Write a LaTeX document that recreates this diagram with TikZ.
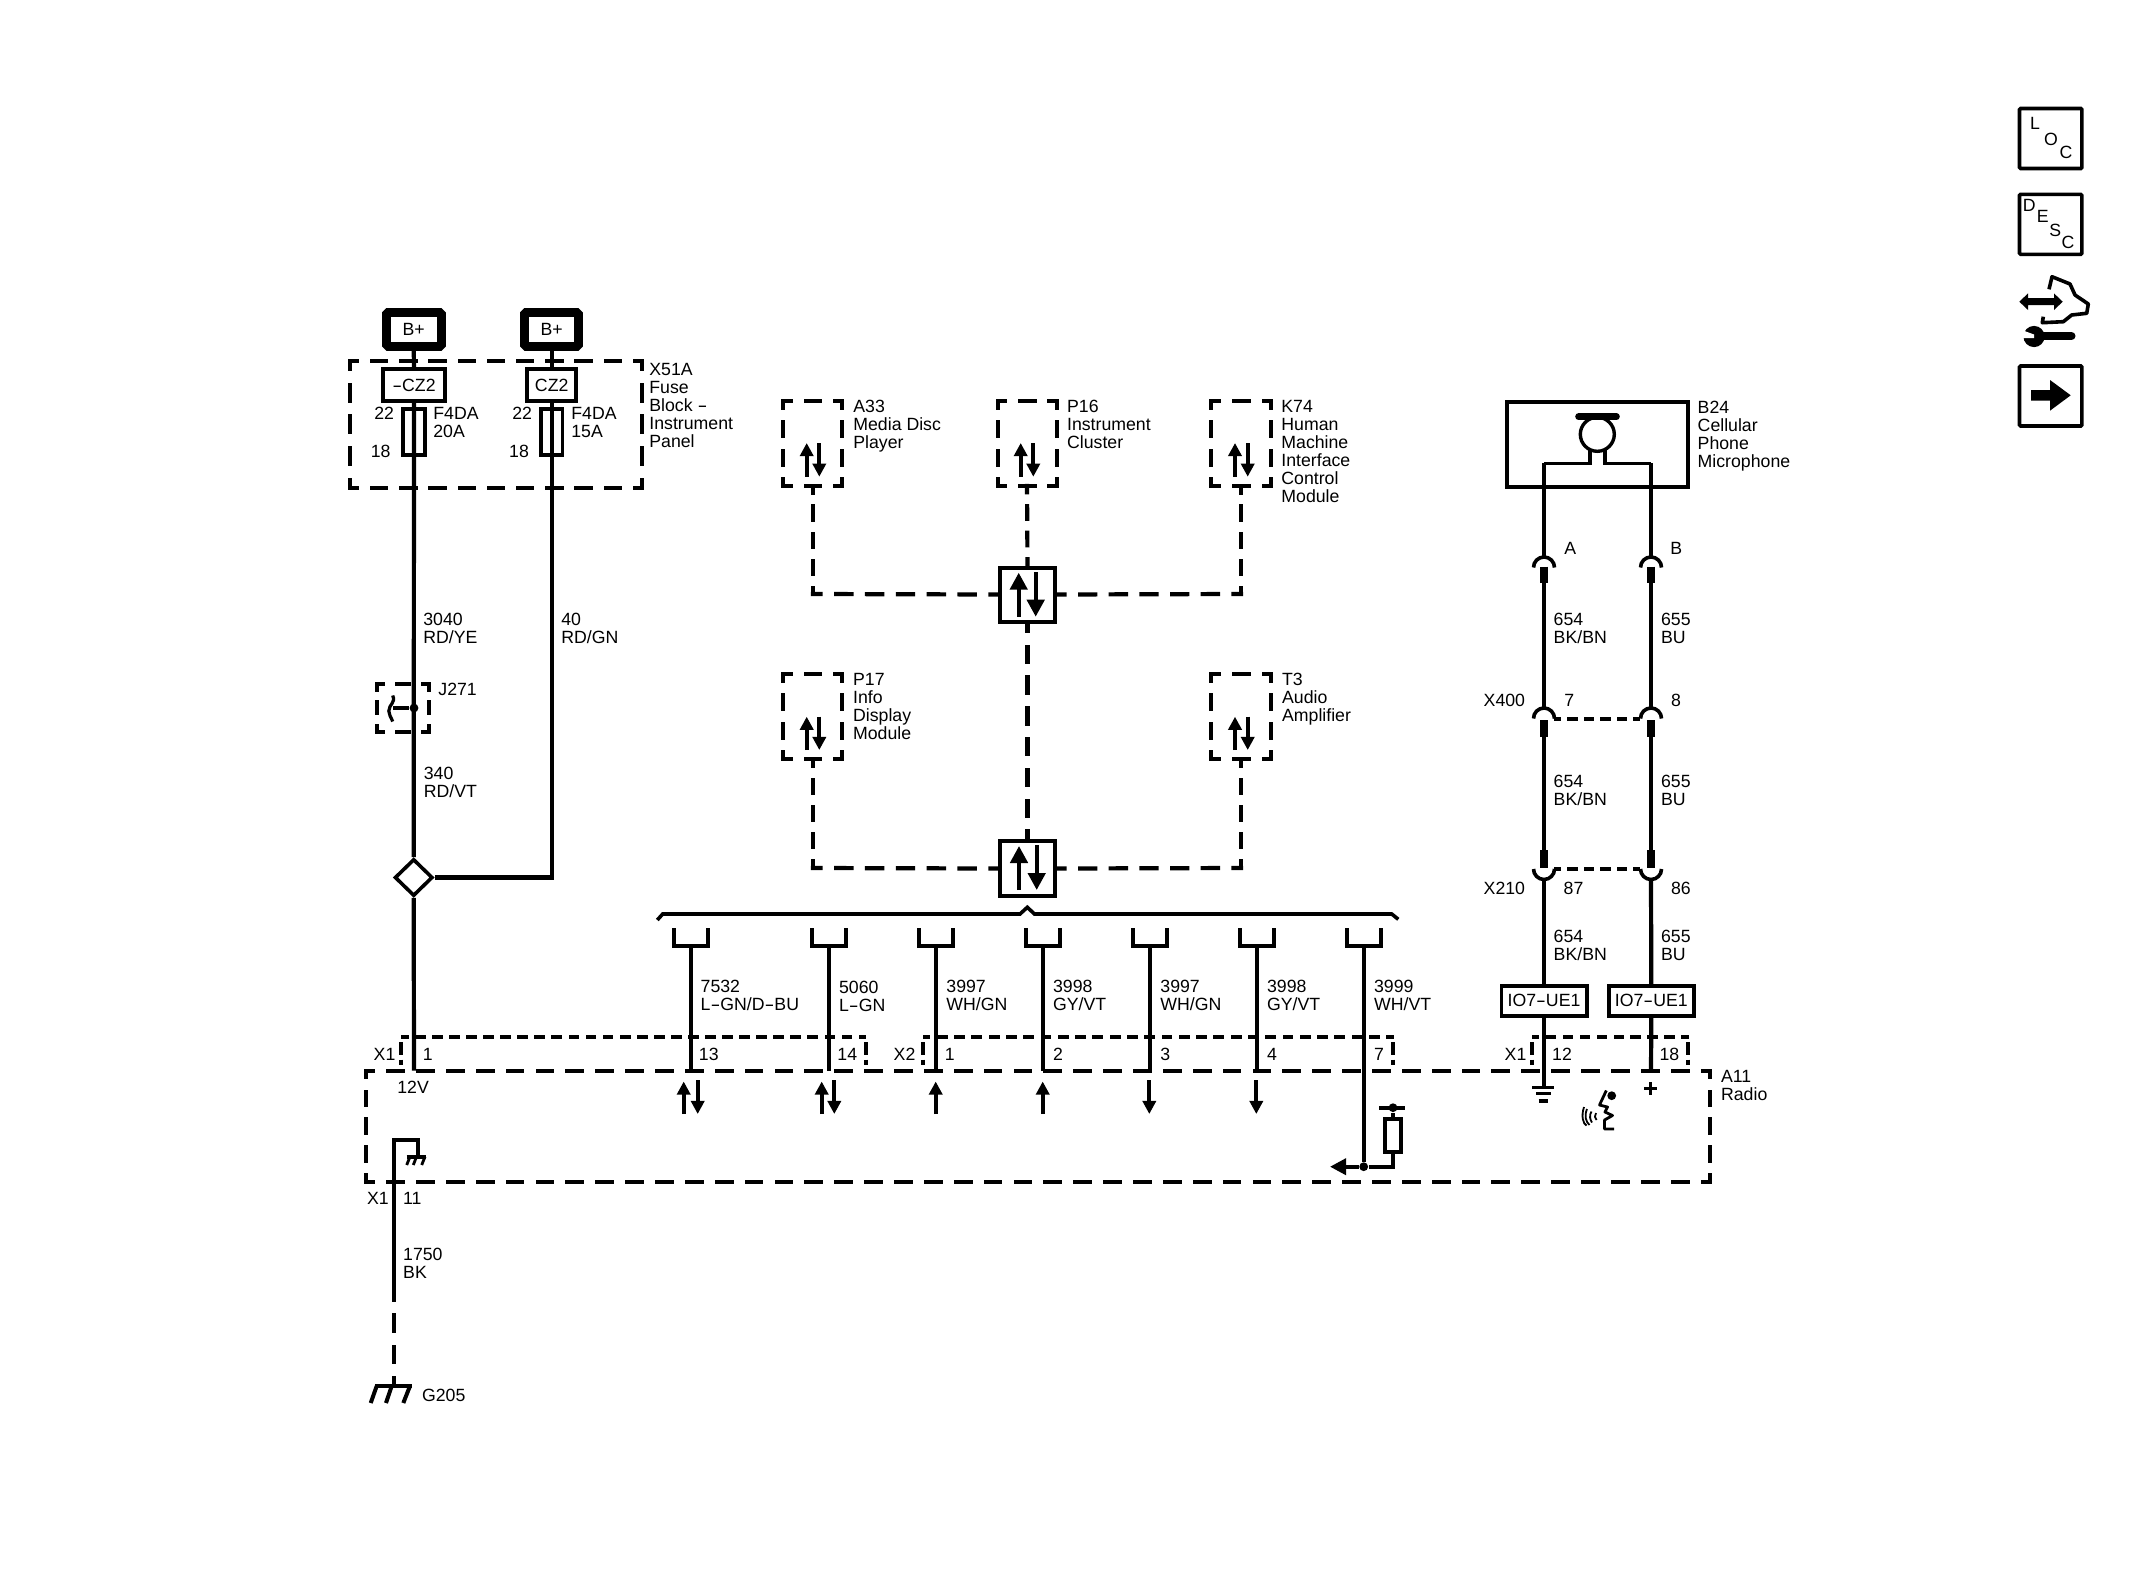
\documentclass[tikz,border=0pt]{standalone}
\usepackage{fontspec}
\setmainfont{Liberation Sans}
\usetikzlibrary{arrows.meta,shapes.geometric}
\newcommand\tl[1]{\begin{tabular}[t]{@{}l@{}}#1\end{tabular}}
\newcommand\hy{\scalebox{1.67}[1]{-}}
% dashed link between two named coordinates, dashes fitted so that both ends carry half a dash
\newcommand\dlink[3][15]{%
 \pgfpointdiff{\pgfpointanchor{#2}{center}}{\pgfpointanchor{#3}{center}}%
 \pgfgetlastxy{\dkx}{\dky}%
 \pgfmathsetmacro\dkL{veclen(\dkx,\dky)}%
 \pgfmathsetmacro\dkn{max(1,round(\dkL/#1))}%
 \pgfmathsetmacro\dkP{\dkL/\dkn}%
 \pgfmathsetmacro\dkon{max(0.1,\dkP*0.63-2.1)}%
 \pgfmathsetmacro\dkoff{\dkP-\dkon}%
 \pgfmathsetmacro\dkph{\dkon/2}%
 \draw[line width=2.1pt,line cap=rect,dash pattern=on \dkon pt off \dkoff pt,dash phase=\dkph pt] (#2) -- (#3);}
% dashed rectangle
\newcommand\dbox[6][15]{%
 \coordinate (#2nw) at (#3,#4);\coordinate (#2ne) at (#5,#4);
 \coordinate (#2se) at (#5,#6);\coordinate (#2sw) at (#3,#6);
 \dlink[#1]{#2nw}{#2ne}\dlink[#1]{#2ne}{#2se}\dlink[#1]{#2se}{#2sw}\dlink[#1]{#2sw}{#2nw}}
\newcommand\sidedash[3]{\draw[dashw] (#1,#2) -- (#1,#2+12.5);\draw[dashw] (#1,#3-5.5) -- (#1,#3);}
\newcommand\sockA[2]{\draw[thinw] (#1,#2) ++(-10.5,11) arc[start angle=180,end angle=0,radius=5.25pt];}
\newcommand\sockB[2]{\draw[thinw] (#1,#2) ++(-10.5,-11) arc[start angle=180,end angle=360,radius=5.25pt];}
\tikzset{
 wire/.style={line width=2.1pt},
 thinw/.style={line width=1.8pt},
 dashw/.style={line width=2.1pt},
 pinw/.style={line width=3.6pt},
 lbl/.style={inner sep=0pt,anchor=base west,yshift=-3.15pt,font=\fontsize{8.85}{9}\selectfont},
 ctr/.style={inner sep=0pt,font=\fontsize{8.85}{9}\selectfont},
 boxn/.style={draw,line width=1.9pt,inner sep=0pt,font=\fontsize{8.85}{9}\selectfont},
 bplus/.style={draw,line width=4.5pt,line join=bevel,inner sep=0pt,minimum width=27.25pt,minimum height=17pt,font=\fontsize{8.85}{9}\selectfont},
 hubn/.style={draw,line width=2pt,inner sep=0pt,minimum width=27.5pt,minimum height=27pt},
 iconbox/.style={draw,line width=1.8pt,inner sep=0pt,minimum width=31.2pt,minimum height=30pt,rounded corners=0.6pt},
 jdot/.style={circle,fill=black,inner sep=0pt,minimum size=4.4pt},
 up/.style={line width=2pt,-{Triangle[length=6.6pt,width=6.6pt]}},
 bigup/.style={line width=2pt,-{Triangle[length=8.5pt,width=8.6pt]}},
}
\begin{document}
\begin{tikzpicture}[x=0.5pt,y=-0.5pt]
\useasboundingbox (0,0) rectangle (2130,1595);
\fill[white] (0,0) rectangle (2130,1595);

%%% Icons
\node[iconbox] (locb) at (2050.7,138.5) {};
\node[ctr] (l1) at (2035,123.3) {L};
\node[ctr] (l2) at (2051,139.3) {O};
\node[ctr] (l3) at (2066,152.7) {C};
\node[iconbox] (descb) at (2050.7,224.3) {};
\node[ctr] (d1) at (2029.3,205) {D};
\node[ctr] (d2) at (2042.7,216) {E};
\node[ctr] (d3) at (2055.3,230) {S};
\node[ctr] (d4) at (2068,242.3) {C};
\node[iconbox] (nextb) at (2050.7,396) {};
\fill (2031,390) -- (2050,390) -- (2050,380) -- (2070.7,395.3) -- (2050,410.7) -- (2050,400.7) -- (2031,400.7) -- cycle;
% hand and double arrow
\draw[line width=1.8pt,line join=round] (2049,289.3) -- (2052,276.7) -- (2070,284) -- (2075,295) -- (2088.3,304) -- (2086.7,313.3) -- (2071.7,315) -- (2063.3,321.7) -- (2042.3,322.7) -- (2043.3,316.7);
\fill (2019.3,301.7) -- (2028,293.4) -- (2028,298.2) -- (2054,298.2) -- (2054,293.4) -- (2062.7,301.7) -- (2054,310) -- (2054,305.2) -- (2028,305.2) -- (2028,310) -- cycle;
% wrench
\draw[line width=4pt,line cap=round] (2037,336) -- (2071.5,336);
\fill (2034,336.5) circle[radius=5.3pt];
\fill[white] (2023,330.5) -- (2034,334.5) -- (2034,338) -- (2023,338) -- cycle;

%%% X51A fuse block
\dbox{xf}{350}{361}{642}{487.7}
\node[bplus] (bp1) at (413.75,329.5) {B+};
\node[bplus] (bp2) at (551.7,329.5) {B+};
\node[boxn,minimum width=31pt,minimum height=16pt] (cz1) at (414,385) {\hy CZ2};
\node[boxn,minimum width=24.5pt,minimum height=16pt] (cz2) at (551.7,385) {CZ2};
\node[boxn,minimum width=10.7pt,minimum height=23pt] (fu1) at (414,431.7) {};
\node[boxn,minimum width=10.7pt,minimum height=23pt] (fu2) at (551.7,431.7) {};
\draw[wire] (bp1.south) -- (cz1.north);
\draw[wire] (bp2.south) -- (cz2.north);
\node[lbl] (t22a) at (374,413) {22};
\node[lbl] (t18a) at (370.5,451) {18};
\node[lbl] (tf1) at (433,413) {\tl{F4DA\\20A}};
\node[lbl] (t22b) at (512,413) {22};
\node[lbl] (t18b) at (508.8,451) {18};
\node[lbl] (tf2) at (571,413) {\tl{F4DA\\15A}};
\node[lbl] (tx51) at (649,369) {\tl{X51A\\Fuse\\Block \hy\\Instrument\\Panel}};

%%% main feed
\node[draw,diamond,aspect=1,line width=1.8pt,inner sep=0pt,minimum width=19pt,minimum height=18.5pt] (dia) at (413.7,877.5) {};
\coordinate (c2) at (551.7,877.5);
\coordinate (p1) at (414,1070.7);
\draw[wire] (cz1.south) -- (dia.north);
\draw[wire,line join=miter] (cz2.south) -- (c2) -- (dia.east);
\draw[wire] (dia.south) -- (p1);
\node[lbl] (t3040) at (423,619) {\tl{3040\\RD/YE}};
\node[lbl] (t40) at (561,619) {\tl{40\\RD/GN}};
\node[lbl] (t340) at (423.5,773) {\tl{340\\RD/VT}};

%%% J271
\dbox[13.5]{jb}{376.7}{684}{429}{731.7}
\node[lbl] (tj) at (438,689) {J271};
\node[jdot] (j1) at (414,708) {};
\coordinate (j2) at (393,708);
\draw[thinw] (j1) -- (j2);
\draw[line width=1.6pt] (392.7,695.5) .. controls (396,703) and (389,704) .. (388.8,711) .. controls (388.8,715) and (391,717) .. (392.7,721.5);

%%% A11 radio
\dbox{ar}{365.7}{1070.7}{1710}{1181.7}
\node[lbl] (ta11) at (1720.7,1076) {\tl{A11\\Radio}};
\coordinate (xa) at (403.3,1036.7);\coordinate (xb) at (864,1036.7);
\dlink[8.65]{xa}{xb}
\sidedash{401}{1042}{1065}
\sidedash{866}{1042}{1065}
\coordinate (xc) at (925,1036.7);\coordinate (xd) at (1391.7,1036.7);
\dlink[8.65]{xc}{xd}
\sidedash{923}{1042}{1065}
\sidedash{1393}{1042}{1065}
\coordinate (xe) at (1534,1036.7);\coordinate (xf) at (1686.7,1036.7);
\dlink[8.65]{xe}{xf}
\sidedash{1531.7}{1042}{1065}
\sidedash{1688.3}{1042}{1065}
\node[lbl] (tx1a) at (373.3,1054.3) {X1};
\node[lbl] (tn1) at (422.5,1054.3) {1};
\node[lbl] (t12v) at (397,1087.5) {12V};
\node[lbl] (tn13) at (698.5,1054.3) {13};
\node[lbl] (tn14) at (837,1054.3) {14};
\node[lbl] (tx2) at (893.3,1054.3) {X2};
\node[lbl] (tq1) at (944.5,1054.3) {1};
\node[lbl] (tq2) at (1052.7,1054.3) {2};
\node[lbl] (tq3) at (1160,1054.3) {3};
\node[lbl] (tq4) at (1266.7,1054.3) {4};
\node[lbl] (tq7) at (1373.7,1054.3) {7};
\node[lbl] (tx1b) at (1504.3,1054.3) {X1};
\node[lbl] (tn12) at (1551.8,1054.3) {12};
\node[lbl] (tn18) at (1659.2,1054.3) {18};

%%% chassis ground in radio and G205
\coordinate (g1) at (394.3,1291.7);
\coordinate (g2) at (394.3,1140);
\coordinate (g3) at (418.3,1140);
\coordinate (g4) at (418.3,1156.7);
\coordinate (g5) at (394.3,1386);
\draw[wire,line join=miter] (g1) -- (g2) -- (g3) -- (g4);
\draw[thinw] (406.7,1156.7) -- (426,1156.7);
\draw[line width=1.4pt] (410,1156.7) -- (406.7,1165) (416.5,1156.7) -- (413.3,1165) (425,1156.7) -- (421.7,1165);
\dlink[15.5]{g1}{g5}
\draw[line width=2pt] (375,1386) -- (411.5,1386);
\draw[line width=2pt] (376.7,1386) -- (370.7,1403) (391.7,1386) -- (386,1403) (410,1386) -- (403.3,1403);
\node[lbl] (tx1c) at (366.7,1198.3) {X1};
\node[lbl] (tn11) at (402.8,1198.3) {11};
\node[lbl] (t1750) at (402.8,1254) {\tl{1750\\BK}};
\node[lbl] (tg205) at (421.7,1395.5) {G205};

%%% data modules
\dbox{ma}{783.3}{401}{842.3}{486}
\dbox{mb}{997.7}{401}{1056.7}{486}
\dbox{mc}{1211.3}{401}{1271}{486}
\dbox{md}{783.3}{674}{842.3}{759}
\dbox{me}{1211.3}{674}{1271}{759}
\foreach \xu/\xd/\yt/\yb in {806.7/819.3/443/476.7, 1020.7/1033.3/443/476.7, 1235/1247.7/443/476.7, 806.7/819.3/716.7/750, 1235/1247.7/716.7/750}{
 \draw[up] (\xu,\yb) -- (\xu,\yt);
 \draw[up] (\xd,\yt) -- (\xd,\yb);
}
\node[lbl] (ta33) at (853,405.7) {\tl{A33\\Media Disc\\Player}};
\node[lbl] (tp16) at (1066.7,405.7) {\tl{P16\\Instrument\\Cluster}};
\node[lbl] (tk74) at (1281,405.7) {\tl{K74\\Human\\Machine\\Interface\\Control\\Module}};
\node[lbl] (tp17) at (852.7,679) {\tl{P17\\Info\\Display\\Module}};
\node[lbl] (tt3) at (1281.7,679) {\tl{T3\\Audio\\Amplifier}};

\node[hubn] (hub1) at (1027.5,594.5) {};
\node[hubn,minimum height=27.5pt] (hub2) at (1027.5,868.5) {};
\draw[bigup] (1018.7,616.7) -- (1018.7,572.7);
\draw[bigup] (1035.7,572) -- (1035.7,616.7);
\draw[bigup] (1019,890) -- (1019,846);
\draw[bigup] (1036.7,845) -- (1036.7,890);
\coordinate (h1n) at (hub1.north);\coordinate (h1s) at (hub1.south);
\coordinate (h1w) at (hub1.west);\coordinate (h1e) at (hub1.east);
\coordinate (h2n) at (hub2.north);
\coordinate (h2w) at (hub2.west);\coordinate (h2e) at (hub2.east);
\coordinate (mab) at (813,486);\coordinate (mbb) at (1027,486);\coordinate (mcb) at (1241,486);
\coordinate (mdb) at (813,759);\coordinate (meb) at (1241,759);
\coordinate (ca) at (813,594);\coordinate (cc) at (1241,594);
\coordinate (cd) at (813,868);\coordinate (ce) at (1241,868);
\dlink{mab}{ca}\dlink{ca}{h1w}
\dlink{mbb}{h1n}
\dlink{mcb}{cc}\dlink{cc}{h1e}
\dlink{h1s}{h2n}
\dlink{mdb}{cd}\dlink{cd}{h2w}
\dlink{meb}{ce}\dlink{ce}{h2e}

%%% bus and harness
\draw[thinw,line join=miter] (657.3,920) -- (662.7,914) -- (1020,914) -- (1027.3,907.3) -- (1034.5,914) -- (1391.7,914) -- (1398.3,919.3);
\foreach \nm/\x in {a/691,b/829,c/935.7,d/1043,e/1150,f/1256.7}{
 \coordinate (u\nm) at (\x,946);
 \coordinate (p\nm) at (\x,1071);
 \draw[wire] (u\nm) -- (p\nm);
 \draw[thinw] (\x-17,928) -- (\x-17,946) -- (\x+17,946) -- (\x+17,928);
}
\coordinate (ug) at (1363.7,946);
\node[jdot] (pg) at (1363.7,1166.7) {};
\draw[wire] (ug) -- (pg);
\draw[thinw] (1346.7,928) -- (1346.7,946) -- (1380.7,946) -- (1380.7,928);
\node[lbl] (w1) at (700.3,986) {\tl{7532\\L\hy GN/D\hy BU}};
\node[lbl] (w2) at (838.7,987) {\tl{5060\\L\hy GN}};
\node[lbl] (w3) at (946,986) {\tl{3997\\WH/GN}};
\node[lbl] (w4) at (1052.7,986) {\tl{3998\\GY/VT}};
\node[lbl] (w5) at (1160,986) {\tl{3997\\WH/GN}};
\node[lbl] (w6) at (1266.7,986) {\tl{3998\\GY/VT}};
\node[lbl] (w7) at (1373.7,986) {\tl{3999\\WH/VT}};
% direction arrows in radio
\draw[up] (683.7,1114) -- (683.7,1081.5);
\draw[up] (697.7,1080) -- (697.7,1114);
\draw[up] (821.7,1114) -- (821.7,1081.5);
\draw[up] (834.3,1080) -- (834.3,1114);
\draw[up] (935.7,1114) -- (935.7,1081.5);
\draw[up] (1042.7,1114) -- (1042.7,1081.5);
\draw[up] (1149.3,1080) -- (1149.3,1114);
\draw[up] (1256.3,1080) -- (1256.3,1114);
% pull-up at pin 7
\coordinate (ra) at (1330,1166.7);
\coordinate (rb) at (1393,1166.7);
\node[boxn,minimum width=7.8pt,minimum height=16.2pt] (res) at (1393,1135.5) {};
\node[jdot] (rt) at (1393,1107.7) {};
\draw[thinw,-{Triangle[length=8pt,width=8pt]}] (pg) -- (ra);
\draw[thinw] (pg) -- (rb) -- (res.south);
\draw[thinw] (res.north) -- (rt);
\draw[thinw] (1379.3,1107.7) -- (1405,1107.7);

%%% microphone
\node[boxn,minimum width=90.8pt,minimum height=42.8pt] (b24) at (1597.5,444.5) {};
\node[draw,circle,line width=1.7pt,inner sep=0pt,minimum size=17pt] (mic) at (1597.3,434.3) {};
\draw[line width=3.3pt,line cap=round] (1578.5,416.7) -- (1616.5,416.7);
\node[lbl] (tb24) at (1697.3,406.7) {\tl{B24\\Cellular\\Phone\\Microphone}};
\coordinate (ml) at (1590,449);\coordinate (mr) at (1605,449);
\coordinate (mla) at (1590,463.3);\coordinate (mra) at (1605,463.3);
\coordinate (sa1) at (1544,556);\coordinate (sb1) at (1651,556);
\coordinate (mlb) at (1544,463.3);\coordinate (mrb) at (1651,463.3);
\draw[thinw,line join=miter] (ml) -- (mla) -- (mlb);
\draw[thinw,line join=miter] (mr) -- (mra) -- (mrb);
\draw[wire] (mlb) -- (sa1);
\draw[wire] (mrb) -- (sb1);
\sockA{1544}{556.5}\sockA{1651}{556.5}
\sockA{1544}{707.5}\sockA{1651}{707.5}
\sockB{1544}{880}\sockB{1651}{880}
\foreach \nm/\x in {a/1544,b/1651}{
 \draw[pinw] (\x,566.7) -- (\x,583);
 \draw[pinw] (\x,720) -- (\x,736.5);
 \draw[pinw] (\x,850) -- (\x,868.3);
 \coordinate (q1\nm) at (\x,583);\coordinate (q2\nm) at (\x,707);
 \coordinate (q3\nm) at (\x,736.5);\coordinate (q4\nm) at (\x,850);
 \coordinate (q5\nm) at (\x,880.5);
 \draw[wire] (q1\nm) -- (q2\nm);
 \draw[wire] (q3\nm) -- (q4\nm);
}
\coordinate (xl1) at (1556,719);\coordinate (xl2) at (1638.3,719);
\coordinate (xl3) at (1556,869);\coordinate (xl4) at (1638.3,869);
\dlink[9]{xl1}{xl2}
\dlink[9]{xl3}{xl4}
\node[boxn,minimum width=42.6pt,minimum height=14.8pt] (io1) at (1544,1000.8) {IO7\hy UE1};
\node[boxn,minimum width=42.6pt,minimum height=14.8pt] (io2) at (1651.3,1000.8) {IO7\hy UE1};
\draw[wire] (q5a) -- (io1.north);
\draw[wire] (q5b) -- (io2.north);
\coordinate (gnd) at (1544,1087);
\coordinate (pls) at (1651,1070.7);
\draw[wire] (io1.south) -- (gnd);
\draw[wire] (io2.south) -- (pls);
\draw[thinw] (1532.3,1087.3) -- (1554,1087.3) (1536,1093.5) -- (1551,1093.5) (1538.5,1100.7) -- (1548,1100.7);
\draw[line width=1.8pt] (1644,1088.3) -- (1657,1088.3) (1650.5,1082) -- (1650.5,1095);
\node[lbl] (ta) at (1564,547.7) {A};
\node[lbl] (tb) at (1670,547.7) {B};
\node[lbl] (s1) at (1553.3,619.3) {\tl{654\\BK/BN}};
\node[lbl] (s2) at (1660.7,619.3) {\tl{655\\BU}};
\node[lbl] (tx400) at (1483.3,700) {X400};
\node[lbl] (t7) at (1564,700) {7};
\node[lbl] (t8) at (1670.7,700) {8};
\node[lbl] (s3) at (1553.3,781) {\tl{654\\BK/BN}};
\node[lbl] (s4) at (1660.7,781) {\tl{655\\BU}};
\node[lbl] (tx210) at (1483.3,888.3) {X210};
\node[lbl] (t87) at (1563.3,888.3) {87};
\node[lbl] (t86) at (1670.7,888.3) {86};
\node[lbl] (s5) at (1553.3,936) {\tl{654\\BK/BN}};
\node[lbl] (s6) at (1660.7,936) {\tl{655\\BU}};
% speech icon
\fill (1611.7,1095.7) circle[radius=2.2pt];
\draw[line width=1.4pt,line join=round] (1606.3,1090.5) -- (1599.5,1105) -- (1607.5,1107) -- (1605,1112) -- (1612.5,1115.5) -- (1604.5,1120) -- (1604.5,1129) -- (1614,1129);
\draw[line width=0.9pt] (1584,1107) .. controls (1581,1116) and (1583,1124) .. (1586.5,1125.5);
\draw[line width=0.9pt] (1587,1109) .. controls (1584,1116) and (1586,1122) .. (1589.5,1125);
\draw[line width=0.9pt] (1591.5,1111.5) .. controls (1589,1115) and (1590,1120) .. (1592,1122.5);
\draw[line width=0.9pt] (1596,1113) .. controls (1594,1115.5) and (1595,1118) .. (1596.5,1120);
\end{tikzpicture}
\end{document}
